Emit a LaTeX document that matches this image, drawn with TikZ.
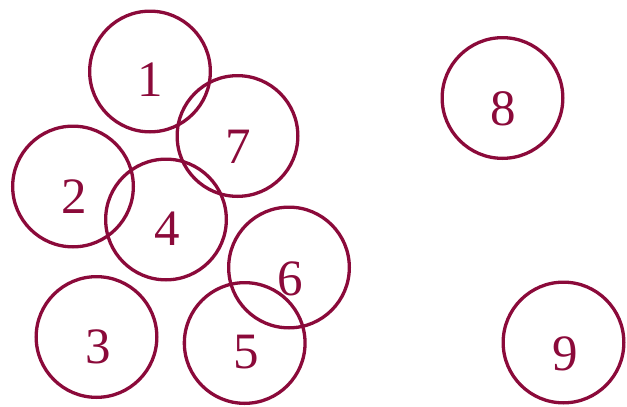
\documentclass[tikz,border=0pt]{standalone}
\usepackage{fontspec}
\setmainfont{Liberation Serif}
\definecolor{maroon}{RGB}{139,10,58}
\begin{document}
\begin{tikzpicture}[x=1pt,y=-1pt,
  ring/.style={circle,draw=maroon,line width=3.3pt,minimum size=120.7pt,inner sep=0pt},
  num/.style={text=maroon,font=\fontsize{51}{51}\selectfont,inner sep=0pt}]
\useasboundingbox (0,0) rectangle (627,407);
\node[ring] (c1) at (150,71.5) {};
\node[ring] (c7) at (237.5,136) {};
\node[ring] (c2) at (73,186.5) {};
\node[ring] (c4) at (166,219.5) {};
\node[ring] (c6) at (289,267.5) {};
\node[ring] (c3) at (96.5,337) {};
\node[ring] (c5) at (244.7,343) {};
\node[ring] (c8) at (502.5,98) {};
\node[ring] (c9) at (563.5,342.5) {};
\node[num] (t1) at (150,80) {1};
\node[num] (t7) at (238.5,146.5) {7};
\node[num] (t2) at (74,196.5) {2};
\node[num] (t4) at (167,228.5) {4};
\node[num] (t6) at (290,279) {6};
\node[num] (t3) at (98,346.5) {3};
\node[num] (t5) at (246,352) {5};
\node[num] (t8) at (503,108.5) {8};
\node[num] (t9) at (565,354) {9};
\end{tikzpicture}
\end{document}
